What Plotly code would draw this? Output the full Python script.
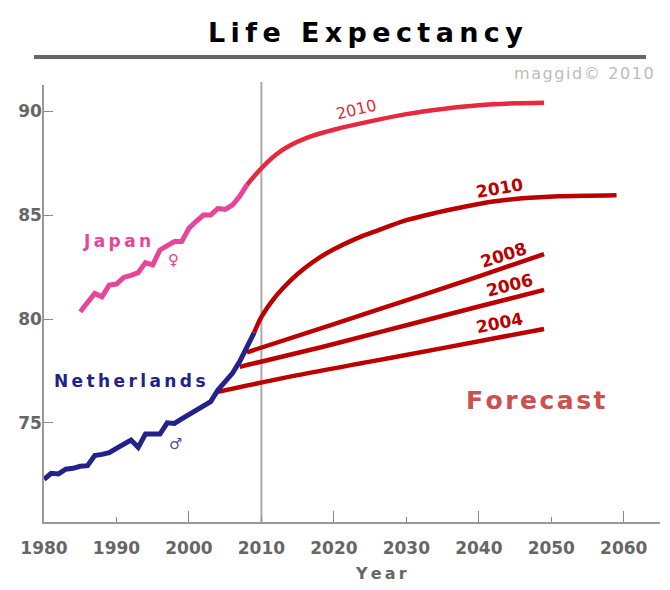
import plotly.graph_objects as go

# ---------------- data ----------------
nl_years = list(range(1980, 2010))
nl_values = [72.29, 72.58, 72.55, 72.78, 72.82, 72.92, 72.95, 73.43, 73.49, 73.57,
             73.78, 73.98, 74.18, 73.83, 74.47, 74.47, 74.47, 75.01, 74.98, 75.2,
             75.4, 75.6, 75.8, 76.03, 76.59, 76.95, 77.39, 77.95, 78.6, 79.35]

jp_years = list(range(1985, 2009))
jp_values = [80.35, 80.8, 81.23, 81.07, 81.63, 81.68, 82.0, 82.1, 82.23, 82.71,
             82.6, 83.32, 83.55, 83.72, 83.72, 84.36, 84.7, 85.0, 85.0, 85.32,
             85.27, 85.48, 85.9, 86.45]

f2010_years = [2008, 2010, 2012, 2014, 2017, 2020, 2025, 2030, 2035, 2040, 2045, 2049]
f2010_values = [86.45, 87.25, 87.9, 88.35, 88.8, 89.1, 89.5, 89.85, 90.1, 90.28, 90.37, 90.4]

m2010_years = [2009, 2010, 2012, 2014, 2016, 2018, 2020, 2023, 2026, 2030, 2034, 2038,
               2042, 2046, 2051, 2059]
m2010_values = [79.35, 80.1, 81.1, 81.85, 82.45, 82.95, 83.35, 83.85, 84.25, 84.75, 85.1,
                85.4, 85.65, 85.8, 85.9, 85.95]

m2008_years = [2008, 2020, 2030, 2040, 2049]
m2008_values = [78.4, 79.75, 80.9, 82.05, 83.12]

m2006_years = [2007, 2020, 2030, 2040, 2049]
m2006_values = [77.7, 78.8, 79.7, 80.6, 81.4]

m2004_years = [2004, 2015, 2025, 2035, 2049]
m2004_values = [76.5, 77.3, 77.95, 78.6, 79.52]

x_ticks = [1980, 1990, 2000, 2010, 2020, 2030, 2040, 2050, 2060]
x_long_ticks = [2000, 2020, 2040, 2060]
y_ticks = [75, 80, 85, 90]

TS = "\u2009"   # thin space for letter spacing
HS = "\u200a"   # hair space


def spaced(s, sep):
    return sep.join(list(s))


FONT = "DejaVu Sans"
PINK = "#e8459a"
CRIMSON = "#e8283e"
DARKRED = "#bb0000"
NAVY = "#22228a"
GRAY = "#666666"

# The page body has an 8px margin, so the figure is drawn 8px in from the corner.
OFF = 8
W, H = 670 - OFF, 590 - OFF
# plot-area geometry in page pixels
L, R, T, B = 44, 660, 85, 522


def px(xp):
    return (xp - L) / (R - L)


def py(yp):
    return (B - yp) / (B - T)


fig = go.Figure()

fig.add_trace(go.Scatter(x=jp_years, y=jp_values, mode="lines",
                         line=dict(color=PINK, width=5), hoverinfo="skip"))
fig.add_trace(go.Scatter(x=f2010_years, y=f2010_values, mode="lines",
                         line=dict(color=CRIMSON, width=4.5, shape="spline", smoothing=0.8),
                         hoverinfo="skip"))
for xs, ys in [(m2004_years, m2004_values), (m2006_years, m2006_values),
               (m2008_years, m2008_values)]:
    fig.add_trace(go.Scatter(x=xs, y=ys, mode="lines",
                             line=dict(color=DARKRED, width=4.5, shape="spline"),
                             hoverinfo="skip"))
fig.add_trace(go.Scatter(x=m2010_years, y=m2010_values, mode="lines",
                         line=dict(color=DARKRED, width=4.5, shape="spline", smoothing=0.8),
                         hoverinfo="skip"))
fig.add_trace(go.Scatter(x=nl_years, y=nl_values, mode="lines",
                         line=dict(color=NAVY, width=5), hoverinfo="skip"))
# invisible trace for secondary (long tick) axis
fig.add_trace(go.Scatter(x=[1980], y=[70.5], xaxis="x2", mode="markers",
                         marker=dict(opacity=0), hoverinfo="skip"))

# 2010 vertical line
fig.add_shape(type="line", xref="x", yref="paper", x0=2010, x1=2010, y0=0, y1=py(82),
              line=dict(color="#aaaaaa", width=2), layer="below")
# separator bar under title
fig.add_shape(type="line", xref="paper", yref="paper", x0=px(34), x1=px(646),
              y0=py(57), y1=py(57), line=dict(color=GRAY, width=4))

ann = []
ann.append(dict(x=px(365), y=py(33), xref="paper", yref="paper",
                text=spaced("Life", TS) + TS + " " + TS + spaced("Expectancy", TS),
                showarrow=False, xanchor="center", yanchor="middle",
                font=dict(family=FONT, size=27, color="black", weight="bold")))
ann.append(dict(x=px(656), y=py(73), xref="paper", yref="paper",
                text=spaced("maggid©", HS) + HS + " " + HS + spaced("2010", HS),
                showarrow=False, font=dict(family=FONT, size=16, color="#bbbbbb"),
                xanchor="right", yanchor="middle"))
ann.append(dict(x=1990.07, y=83.75, text=spaced("Japan", TS), showarrow=False,
                font=dict(family=FONT, size=17, color=PINK, weight="bold")))
ann.append(dict(x=1997.9, y=82.84, text="♀", showarrow=False,
                font=dict(family=FONT, size=15, color="#e0409a")))
ann.append(dict(x=1991.9, y=77.0, text=spaced("Netherlands", TS), showarrow=False,
                font=dict(family=FONT, size=17, color=NAVY, weight="bold")))
ann.append(dict(x=1998.1, y=73.99, text="♂", showarrow=False,
                font=dict(family=FONT, size=15, color="#5050a0")))
ann.append(dict(x=2047.9, y=76.1, text=spaced("Forecast", HS), showarrow=False,
                font=dict(family=FONT, size=25, color="#cc5050", weight="bold")))
ann.append(dict(x=2023.1, y=90.05, text="2010", showarrow=False, textangle=-13,
                font=dict(family=FONT, size=16, color=CRIMSON)))
ann.append(dict(x=2042.9, y=86.28, text="2010", showarrow=False, textangle=-10,
                font=dict(family=FONT, size=17, color=DARKRED, weight="bold")))
ann.append(dict(x=2043.4, y=83.08, text="2008", showarrow=False, textangle=-18,
                font=dict(family=FONT, size=17, color=DARKRED, weight="bold")))
ann.append(dict(x=2044.3, y=81.63, text="2006", showarrow=False, textangle=-14,
                font=dict(family=FONT, size=17, color=DARKRED, weight="bold")))
ann.append(dict(x=2042.8, y=79.79, text="2004", showarrow=False, textangle=-11,
                font=dict(family=FONT, size=17, color=DARKRED, weight="bold")))
# x axis title
ann.append(dict(x=px(381), y=py(573), xref="paper", yref="paper",
                xanchor="center", yanchor="middle", text=spaced("Year", TS), showarrow=False,
                font=dict(family=FONT, size=16, color=GRAY, weight="bold")))
fig.update_layout(annotations=ann)

fig.update_layout(
    width=W, height=H,
    margin=dict(l=L - OFF, r=W - (R - OFF), t=T - OFF, b=H - (B - OFF), autoexpand=False),
    paper_bgcolor="white", plot_bgcolor="white",
    showlegend=False,
    xaxis=dict(range=[1980, 2065], tickvals=x_ticks, ticktext=[str(v) for v in x_ticks],
               ticks="inside", ticklen=5, tickwidth=1, tickcolor="#888888",
               showline=True, linecolor="#999999", linewidth=1.5, showgrid=False,
               zeroline=False, ticklabelstandoff=10, automargin=False,
               tickfont=dict(family=FONT, size=17, color=GRAY, weight="bold")),
    xaxis2=dict(range=[1980, 2065], overlaying="x", anchor="y", side="bottom",
                tickvals=x_long_ticks, ticks="inside", ticklen=11, tickwidth=1,
                tickcolor="#888888", showticklabels=False, showline=False,
                showgrid=False, zeroline=False, automargin=False),
    yaxis=dict(range=[70.24, 91.25], tickvals=y_ticks, ticktext=[str(v) for v in y_ticks],
               ticks="inside", ticklen=9, tickwidth=1, tickcolor="#888888",
               showline=True, linecolor="#999999", linewidth=1.5, showgrid=False,
               zeroline=False, ticklabelstandoff=-3, automargin=False,
               tickfont=dict(family=FONT, size=17, color=GRAY, weight="bold")),
)

fig.write_html("out.html")
